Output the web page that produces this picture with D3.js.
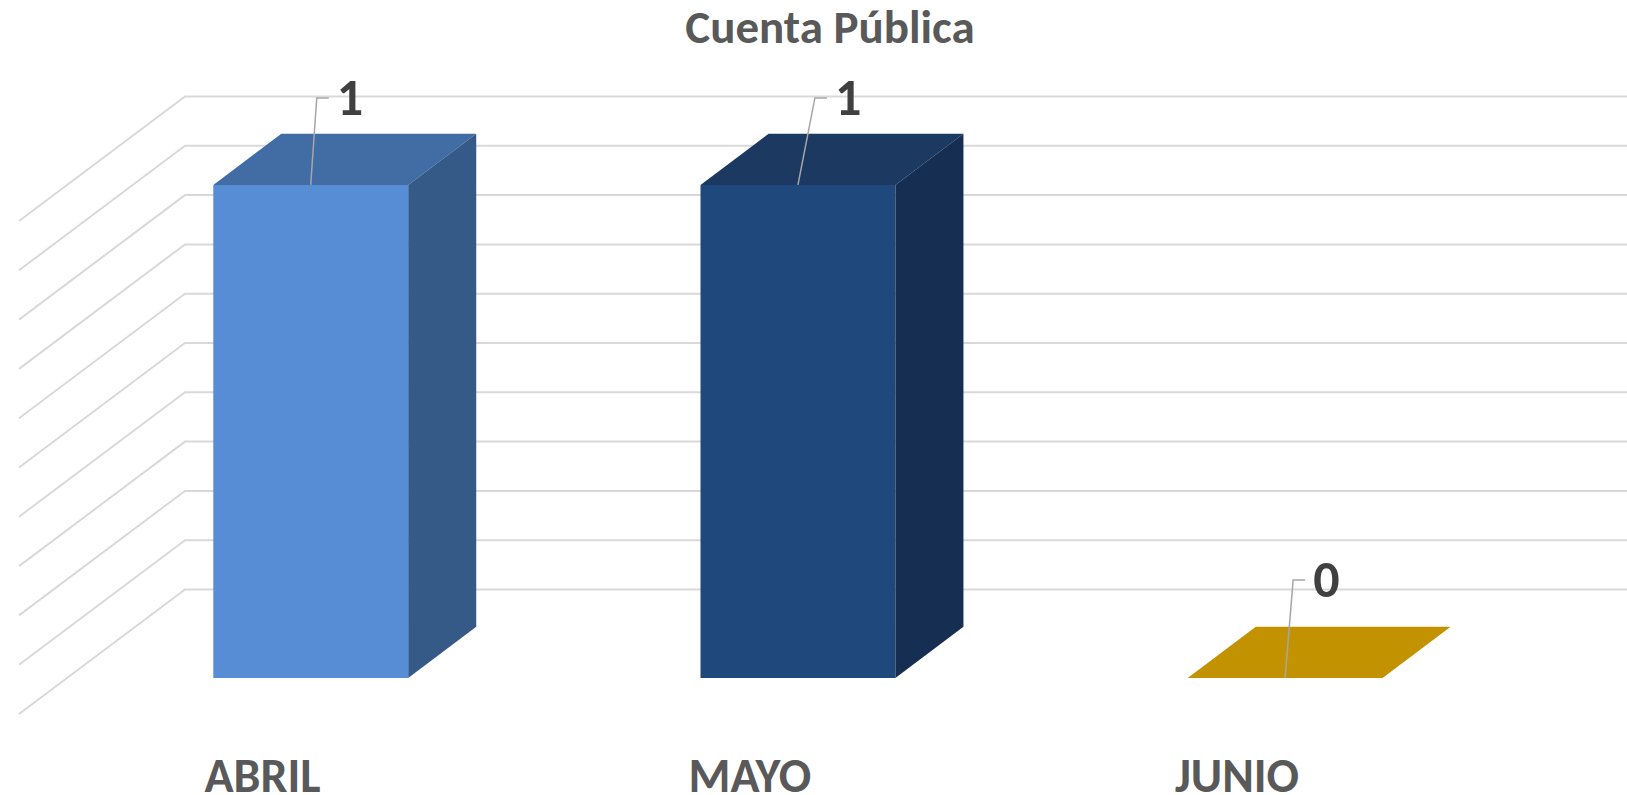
<!DOCTYPE html>
<html>
<head>
<meta charset="utf-8">
<script src="https://cdn.jsdelivr.net/npm/d3@7"></script>
<style>
  body { margin: 0; background: #fff; }
  svg { display: block; font-family: Calibri, Carlito, 'Open Sans', sans-serif; }
</style>
</head>
<body>
<svg id="chart"></svg>
<script>
const months = ['ABRIL', 'MAYO', 'JUNIO'];
const counts = [1, 1, 0];
const chartTitle = 'Cuenta Pública';

class Bar3DChart {

  constructor(_config, _data) {
    this.config = {
      parentElement: _config.parentElement,
      containerWidth: 1627,
      containerHeight: 795,
      plotLeft: 19,
      plotRight: 1480.6,
      floorY: 714,
      topY: 221,
      // oblique projection of the depth axis
      depthX: 166,
      depthY: 124.5,
      barFront: 0.29,
      barBack: 0.70,
      faces: [
        { front: '#568dd5', top: '#416ca4', side: '#355a88' },
        { front: '#1f497d', top: '#1b3961', side: '#162e51' },
        { front: '#c39200', top: '#c39200', side: '#a57c00' }
      ],
      // data labels were dragged by hand in the original, so each gets its own nudge
      labelShift: [[6, -87], [17, -87], [8, -98]]
    };
    this.data = _data;
    this.initVis();
  }

  initVis() {
    let vis = this;
    const c = vis.config;

    vis.svg = d3.select(c.parentElement)
        .attr('width', c.containerWidth)
        .attr('height', c.containerHeight);

    vis.svg.append('rect')
        .attr('width', c.containerWidth)
        .attr('height', c.containerHeight)
        .attr('fill', '#fff');

    vis.x = d3.scaleBand()
        .domain(vis.data.map(d => d.month))
        .range([c.plotLeft, c.plotRight])
        .paddingInner(0.6)
        .paddingOuter(0.3);

    vis.y = d3.scaleLinear()
        .domain([0, 1])
        .range([c.floorY, c.topY]);

    // project (x on front plane, value, depth 0..1) to screen
    vis.project = (x, v, z) => [x + z * c.depthX, vis.y(v) - z * c.depthY];

    vis.gridG = vis.svg.append('g');
    vis.barsG = vis.svg.append('g');
    vis.labelG = vis.svg.append('g');

    vis.svg.append('text')
        .attr('x', 830)
        .attr('y', 43)
        .attr('text-anchor', 'middle')
        .attr('font-size', '47px')
        .attr('font-weight', 'bold')
        .attr('fill', '#595959')
        .text(chartTitle);

    vis.updateVis();
  }

  updateVis() {
    let vis = this;
    vis.ticks = vis.y.ticks(10);
    vis.renderVis();
  }

  renderVis() {
    let vis = this;
    const c = vis.config;
    const P = vis.project;

    // gridlines: diagonal on the side wall, then flat along the back wall
    vis.gridG.selectAll('.grid')
        .data(vis.ticks)
      .join('polyline')
        .attr('class', 'grid')
        .attr('points', v => {
          const a = P(c.plotLeft, v, 0);
          const b = P(c.plotLeft, v, 1);
          return `${a} ${b} ${c.containerWidth},${b[1]}`;
        })
        .attr('fill', 'none')
        .attr('stroke', '#d9d9d9')
        .attr('stroke-width', 2);

    const bars = vis.barsG.selectAll('.bar')
        .data(vis.data)
      .join('g')
        .attr('class', 'bar');

    const face = pts => pts.map(p => p.join(',')).join(' ');

    bars.append('polygon')
        .attr('points', d => {
          const x0 = vis.x(d.month), x1 = x0 + vis.x.bandwidth();
          return face([P(x0, d.count, c.barFront), P(x1, d.count, c.barFront),
                       P(x1, d.count, c.barBack), P(x0, d.count, c.barBack)]);
        })
        .attr('fill', (d, i) => c.faces[i].top);

    bars.append('polygon')
        .attr('points', d => {
          const x1 = vis.x(d.month) + vis.x.bandwidth();
          return face([P(x1, d.count, c.barFront), P(x1, d.count, c.barBack),
                       P(x1, 0, c.barBack), P(x1, 0, c.barFront)]);
        })
        .attr('fill', (d, i) => c.faces[i].side);

    bars.append('polygon')
        .attr('points', d => {
          const x0 = vis.x(d.month), x1 = x0 + vis.x.bandwidth();
          return face([P(x0, d.count, c.barFront), P(x1, d.count, c.barFront),
                       P(x1, 0, c.barFront), P(x0, 0, c.barFront)]);
        })
        .attr('fill', (d, i) => c.faces[i].front);

    // data labels with leader lines
    const labels = vis.labelG.selectAll('.data-label')
        .data(vis.data)
      .join('g')
        .attr('class', 'data-label')
        .attr('transform', d => {
          const p = P(vis.x(d.month) + vis.x.bandwidth() / 2, d.count, c.barFront);
          return `translate(${p})`;
        });

    labels.append('polyline')
        .attr('points', (d, i) => {
          const [sx, sy] = c.labelShift[i];
          return `0,0 ${sx},${sy} ${sx + 12},${sy}`;
        })
        .attr('fill', 'none')
        .attr('stroke', '#a6a6a6')
        .attr('stroke-width', 1.5);

    labels.append('text')
        .attr('x', (d, i) => c.labelShift[i][0] + 20)
        .attr('y', (d, i) => c.labelShift[i][1])
        .attr('dy', '0.33em')
        .attr('font-size', '52px')
        .attr('font-weight', 'bold')
        .attr('fill', '#404040')
        .text(d => d.count);

    // category labels sit on the front edge of the floor
    vis.svg.selectAll('.cat-label')
        .data(vis.data)
      .join('text')
        .attr('class', 'cat-label')
        .attr('x', d => vis.x(d.month) + vis.x.bandwidth() / 2)
        .attr('y', 792)
        .attr('text-anchor', 'middle')
        .attr('font-size', '48px')
        .attr('font-weight', 'bold')
        .attr('fill', '#595959')
        .text(d => d.month);
  }
}

const data = months.map((m, i) => ({ month: m, count: counts[i] }));
new Bar3DChart({ parentElement: '#chart' }, data);
</script>
</body>
</html>
